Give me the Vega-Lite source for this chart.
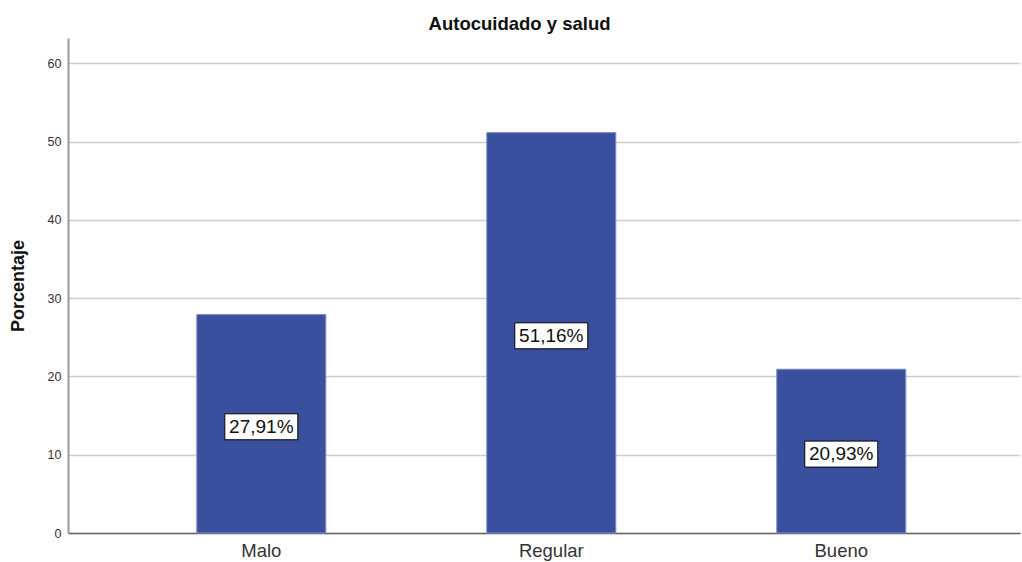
{
  "$schema": "https://vega.github.io/schema/vega-lite/v6.json",
  "autosize": {"type": "none"},
  "width": 952,
  "height": 495,
  "padding": {"left": 68, "top": 38, "right": 2, "bottom": 29},
  "background": "white",
  "config": {"view": {"stroke": null}, "font": "Liberation Sans"},
  "title": {"text": "Autocuidado y salud", "fontSize": 18.5, "fontWeight": "bold", "color": "#111", "frame": "bounds", "anchor": "middle", "offset": 5, "dx": 5, "font": "Liberation Sans"},
  "data": {"values": [
    {"categoria": "Malo", "porcentaje": 27.91, "etiqueta": "27,91%"},
    {"categoria": "Regular", "porcentaje": 51.16, "etiqueta": "51,16%"},
    {"categoria": "Bueno", "porcentaje": 20.93, "etiqueta": "20,93%"}
  ]},
  "encoding": {
    "x": {"field": "categoria", "type": "nominal", "sort": ["Malo", "Regular", "Bueno"],
      "scale": {"paddingInner": 0.555, "paddingOuter": 0.419, "align": 0.53},
      "axis": {"title": null, "labelAngle": 0, "labelFontSize": 18.5, "labelColor": "#333", "ticks": false, "labelPadding": 8, "domainColor": "#666", "domainWidth": 1.5, "grid": false}}
  },
  "layer": [
    {
      "mark": {"type": "bar", "color": "#3a4f9e", "stroke": "#7f90c8", "strokeWidth": 1},
      "encoding": {
        "y": {"field": "porcentaje", "type": "quantitative", "scale": {"domain": [0, 63.25], "nice": false},
          "axis": {"title": "Porcentaje", "titleFontSize": 18, "titleFontWeight": "bold", "titleColor": "#111", "titlePadding": 20,
            "values": [0, 10, 20, 30, 40, 50, 60], "labelFontSize": 12.5, "labelColor": "#333", "tickSize": 0, "labelPadding": 7,
            "domainColor": "#999", "domainWidth": 2, "gridColor": "#cccccc", "gridWidth": 1.5}}
      }
    },
    {
      "mark": {"type": "point", "shape": "M-1,-0.356H1V0.356H-1Z", "size": 5329, "filled": true, "fill": "white", "stroke": "black", "strokeWidth": 1, "opacity": 1, "yOffset": 3},
      "encoding": {
        "y": {"field": "porcentaje", "type": "quantitative", "scale": {"domain": [0, 126.5], "nice": false}, "axis": null}
      }
    },
    {
      "mark": {"type": "text", "fontSize": 19, "color": "#111", "baseline": "middle", "align": "center", "font": "Liberation Sans", "yOffset": 3},
      "encoding": {
        "y": {"field": "porcentaje", "type": "quantitative", "scale": {"domain": [0, 126.5], "nice": false}, "axis": null},
        "text": {"field": "etiqueta"}
      }
    }
  ],
  "resolve": {"scale": {"y": "independent"}}
}
